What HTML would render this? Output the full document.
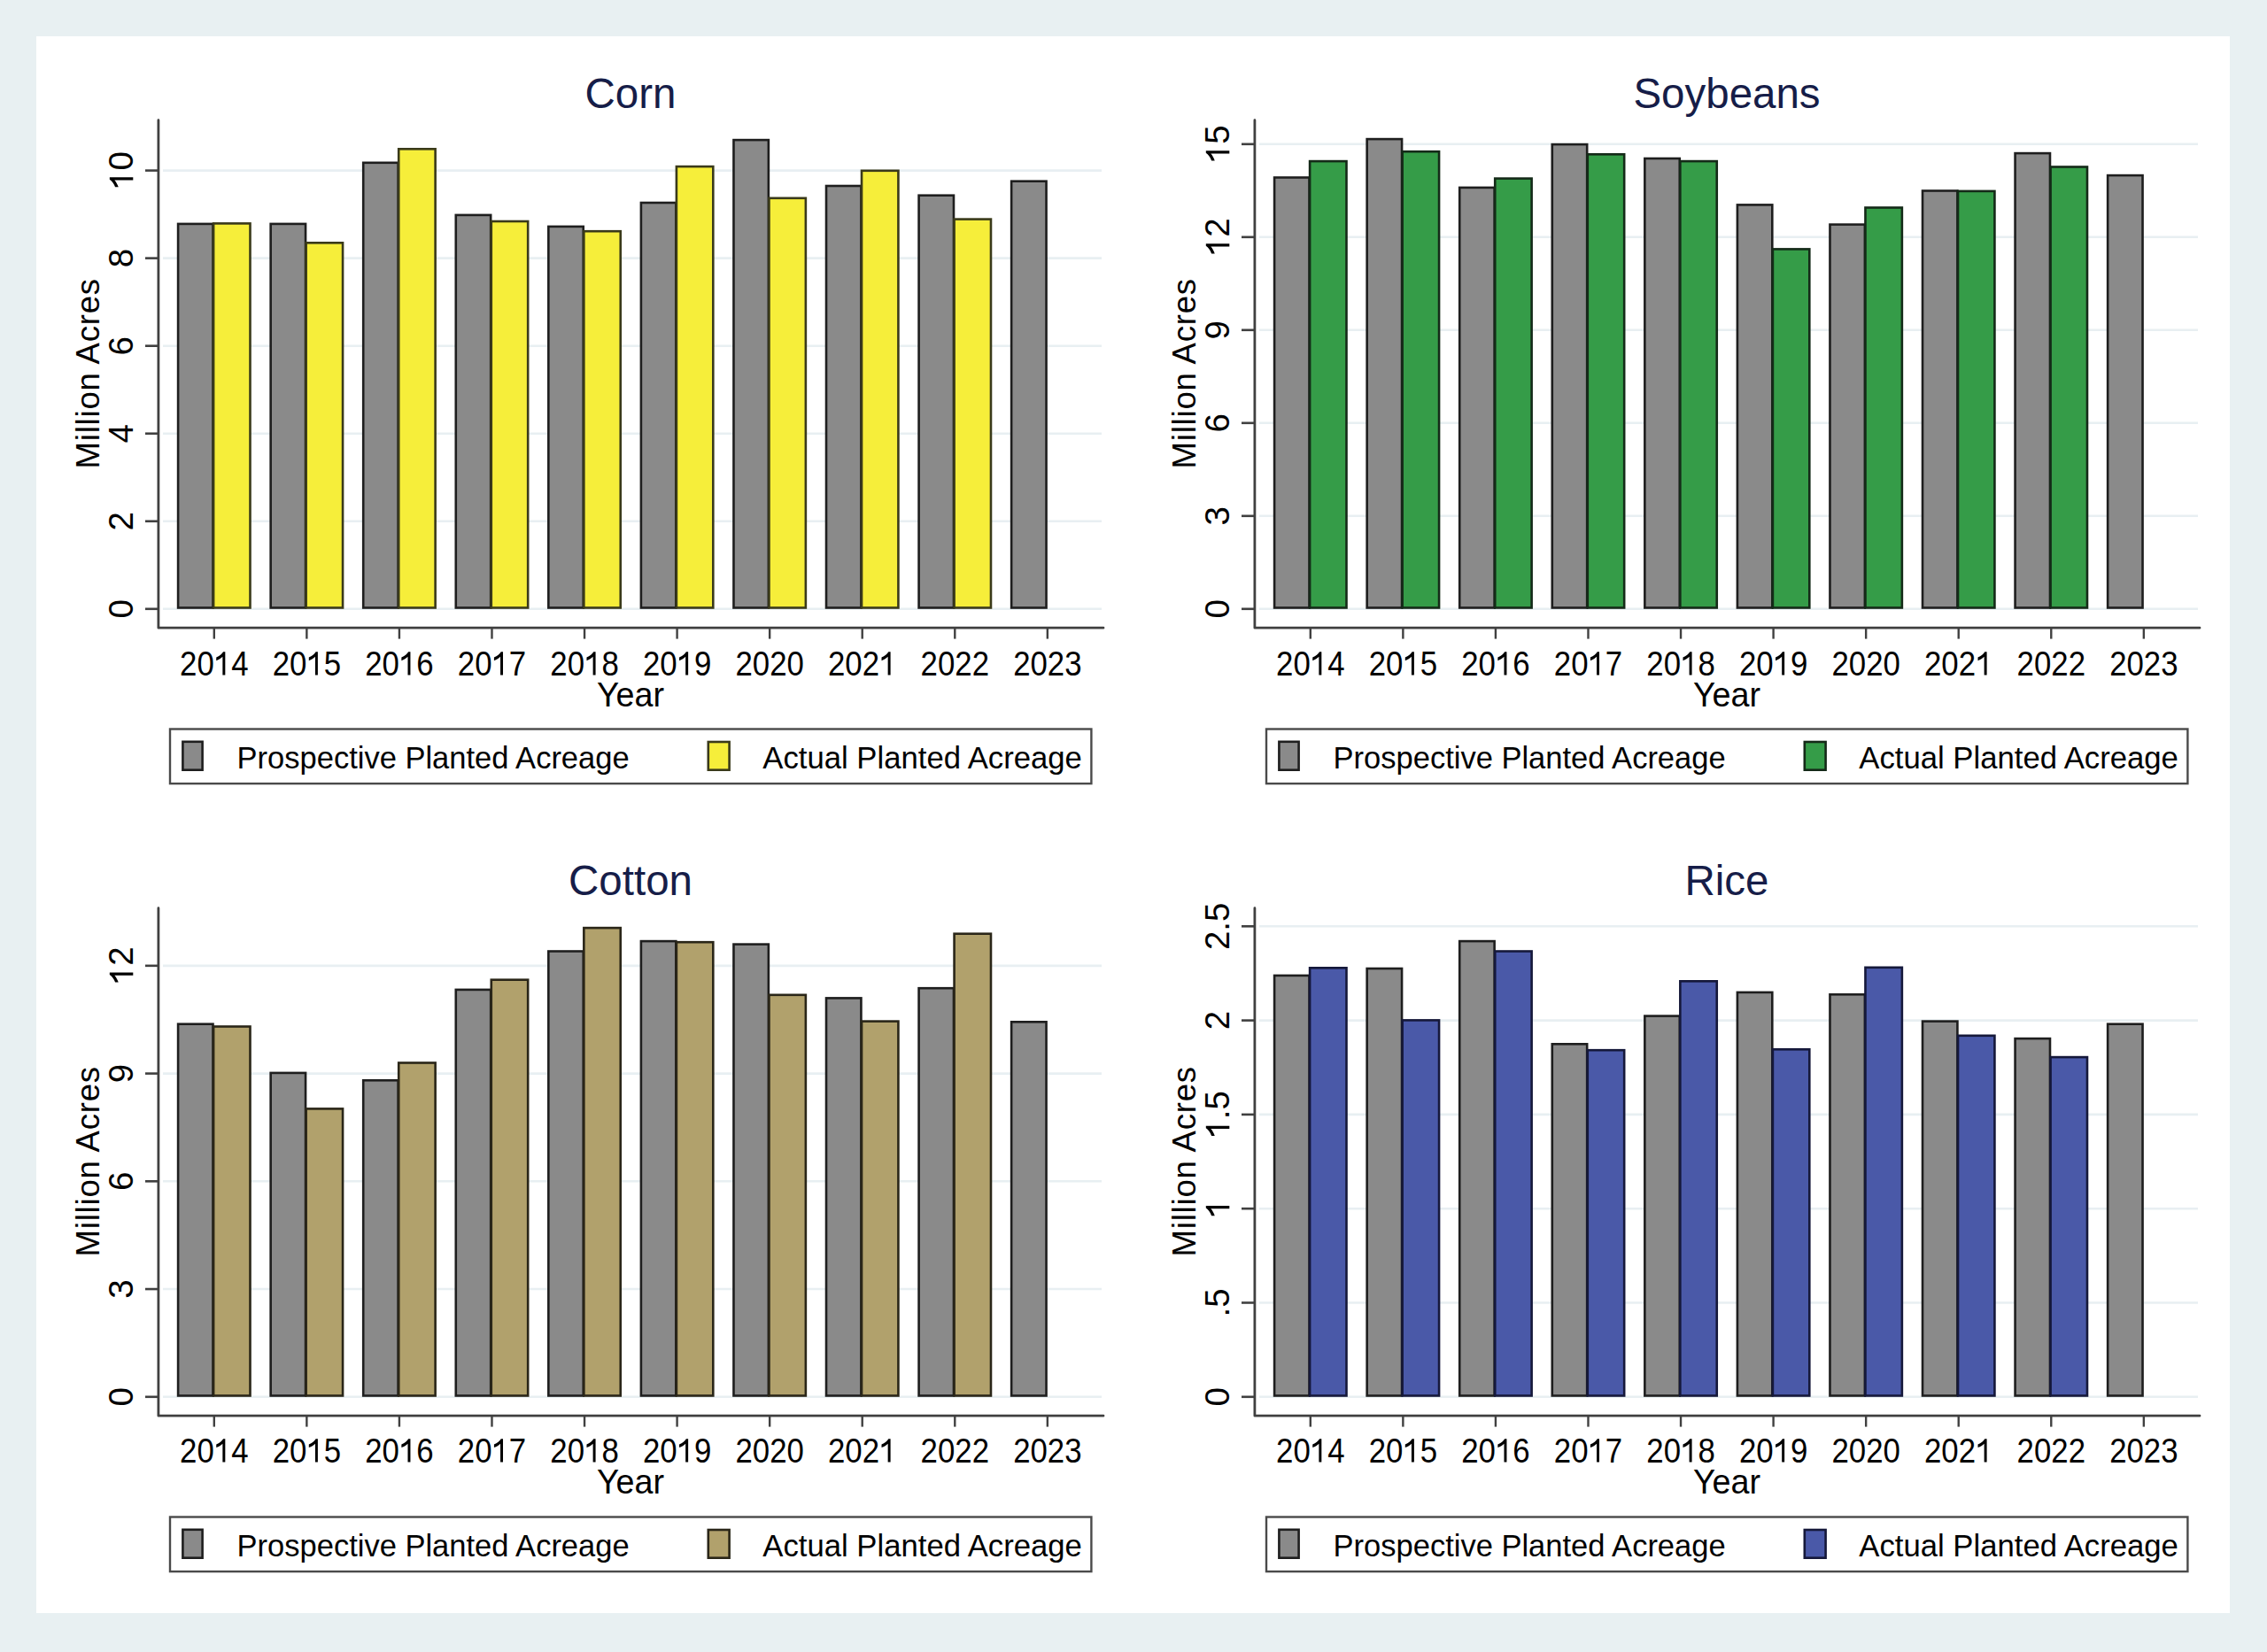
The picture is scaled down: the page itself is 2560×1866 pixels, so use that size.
<!DOCTYPE html><html><head><meta charset="utf-8"><style>html,body{margin:0;padding:0;background:#e8f0f2;width:2560px;height:1866px;overflow:hidden}svg{display:block}text{font-family:"Liberation Sans", sans-serif}</style></head><body>
<svg width="2560" height="1866" viewBox="0 0 2560 1866">
<rect x="0" y="0" width="2560" height="1866" fill="#e8f0f2"/>
<rect x="41" y="41" width="2477" height="1781" fill="#ffffff"/>
<g transform="translate(0,0)">
<line x1="184" y1="687.8" x2="1244" y2="687.8" stroke="#e8eff2" stroke-width="2.6"/>
<line x1="184" y1="588.76" x2="1244" y2="588.76" stroke="#e8eff2" stroke-width="2.6"/>
<line x1="184" y1="489.72" x2="1244" y2="489.72" stroke="#e8eff2" stroke-width="2.6"/>
<line x1="184" y1="390.68" x2="1244" y2="390.68" stroke="#e8eff2" stroke-width="2.6"/>
<line x1="184" y1="291.64" x2="1244" y2="291.64" stroke="#e8eff2" stroke-width="2.6"/>
<line x1="184" y1="192.6" x2="1244" y2="192.6" stroke="#e8eff2" stroke-width="2.6"/>
<rect x="201.1" y="252.9" width="39.4" height="433.6" fill="#8a8a8a" stroke="#1e1e1e" stroke-width="2.6"/>
<rect x="241.1" y="252.4" width="41.4" height="434.1" fill="#f6ee3a" stroke="#3a3a1a" stroke-width="2.6"/>
<rect x="305.66" y="252.9" width="39.4" height="433.6" fill="#8a8a8a" stroke="#1e1e1e" stroke-width="2.6"/>
<rect x="345.66" y="274.3" width="41.4" height="412.2" fill="#f6ee3a" stroke="#3a3a1a" stroke-width="2.6"/>
<rect x="410.22" y="183.8" width="39.4" height="502.7" fill="#8a8a8a" stroke="#1e1e1e" stroke-width="2.6"/>
<rect x="450.22" y="168.3" width="41.4" height="518.2" fill="#f6ee3a" stroke="#3a3a1a" stroke-width="2.6"/>
<rect x="514.78" y="242.9" width="39.4" height="443.6" fill="#8a8a8a" stroke="#1e1e1e" stroke-width="2.6"/>
<rect x="554.78" y="250" width="41.4" height="436.5" fill="#f6ee3a" stroke="#3a3a1a" stroke-width="2.6"/>
<rect x="619.34" y="255.9" width="39.4" height="430.6" fill="#8a8a8a" stroke="#1e1e1e" stroke-width="2.6"/>
<rect x="659.34" y="261.2" width="41.4" height="425.3" fill="#f6ee3a" stroke="#3a3a1a" stroke-width="2.6"/>
<rect x="723.9" y="229" width="39.4" height="457.5" fill="#8a8a8a" stroke="#1e1e1e" stroke-width="2.6"/>
<rect x="763.9" y="188.1" width="41.4" height="498.4" fill="#f6ee3a" stroke="#3a3a1a" stroke-width="2.6"/>
<rect x="828.46" y="158.1" width="39.4" height="528.4" fill="#8a8a8a" stroke="#1e1e1e" stroke-width="2.6"/>
<rect x="868.46" y="223.8" width="41.4" height="462.7" fill="#f6ee3a" stroke="#3a3a1a" stroke-width="2.6"/>
<rect x="933.02" y="210" width="39.4" height="476.5" fill="#8a8a8a" stroke="#1e1e1e" stroke-width="2.6"/>
<rect x="973.02" y="192.8" width="41.4" height="493.7" fill="#f6ee3a" stroke="#3a3a1a" stroke-width="2.6"/>
<rect x="1037.58" y="220.7" width="39.4" height="465.8" fill="#8a8a8a" stroke="#1e1e1e" stroke-width="2.6"/>
<rect x="1077.58" y="247.6" width="41.4" height="438.9" fill="#f6ee3a" stroke="#3a3a1a" stroke-width="2.6"/>
<rect x="1142.14" y="204.7" width="39.4" height="481.8" fill="#8a8a8a" stroke="#1e1e1e" stroke-width="2.6"/>
<path d="M178.9 135.7 L178.9 709.2 L1246 709.2" fill="none" stroke="#404040" stroke-width="2.8" stroke-linejoin="round" stroke-linecap="round"/>
<line x1="164" y1="687.8" x2="178.9" y2="687.8" stroke="#404040" stroke-width="2.6"/>
<g transform="translate(150.3,687.8) rotate(-90)"><text x="0" y="0" text-anchor="middle" font-size="38.5">0</text></g>
<line x1="164" y1="588.76" x2="178.9" y2="588.76" stroke="#404040" stroke-width="2.6"/>
<g transform="translate(150.3,588.76) rotate(-90)"><text x="0" y="0" text-anchor="middle" font-size="38.5">2</text></g>
<line x1="164" y1="489.72" x2="178.9" y2="489.72" stroke="#404040" stroke-width="2.6"/>
<g transform="translate(150.3,489.72) rotate(-90)"><text x="0" y="0" text-anchor="middle" font-size="38.5">4</text></g>
<line x1="164" y1="390.68" x2="178.9" y2="390.68" stroke="#404040" stroke-width="2.6"/>
<g transform="translate(150.3,390.68) rotate(-90)"><text x="0" y="0" text-anchor="middle" font-size="38.5">6</text></g>
<line x1="164" y1="291.64" x2="178.9" y2="291.64" stroke="#404040" stroke-width="2.6"/>
<g transform="translate(150.3,291.64) rotate(-90)"><text x="0" y="0" text-anchor="middle" font-size="38.5">8</text></g>
<line x1="164" y1="192.6" x2="178.9" y2="192.6" stroke="#404040" stroke-width="2.6"/>
<g transform="translate(150.3,192.6) rotate(-90)"><text x="0" y="0" text-anchor="middle" font-size="38.5">&#8199;0</text><path transform="translate(-21.41,0) scale(38.5)" d="M0.36 0L0.36 -0.688L0.295 -0.688C0.255 -0.62 0.175 -0.565 0.07 -0.525L0.07 -0.43C0.155 -0.46 0.225 -0.5 0.275 -0.545L0.275 0Z"/></g>
<line x1="241.8" y1="709.2" x2="241.8" y2="721.6" stroke="#404040" stroke-width="2.4"/>
<g transform="translate(241.8,762.6) scale(1,1.1)"><text x="0" y="0" text-anchor="middle" font-size="34.8">20&#8199;4</text><path transform="translate(0,0) scale(34.8)" d="M0.36 0L0.36 -0.688L0.295 -0.688C0.255 -0.62 0.175 -0.565 0.07 -0.525L0.07 -0.43C0.155 -0.46 0.225 -0.5 0.275 -0.545L0.275 0Z"/></g>
<line x1="346.36" y1="709.2" x2="346.36" y2="721.6" stroke="#404040" stroke-width="2.4"/>
<g transform="translate(346.36,762.6) scale(1,1.1)"><text x="0" y="0" text-anchor="middle" font-size="34.8">20&#8199;5</text><path transform="translate(0,0) scale(34.8)" d="M0.36 0L0.36 -0.688L0.295 -0.688C0.255 -0.62 0.175 -0.565 0.07 -0.525L0.07 -0.43C0.155 -0.46 0.225 -0.5 0.275 -0.545L0.275 0Z"/></g>
<line x1="450.92" y1="709.2" x2="450.92" y2="721.6" stroke="#404040" stroke-width="2.4"/>
<g transform="translate(450.92,762.6) scale(1,1.1)"><text x="0" y="0" text-anchor="middle" font-size="34.8">20&#8199;6</text><path transform="translate(0,0) scale(34.8)" d="M0.36 0L0.36 -0.688L0.295 -0.688C0.255 -0.62 0.175 -0.565 0.07 -0.525L0.07 -0.43C0.155 -0.46 0.225 -0.5 0.275 -0.545L0.275 0Z"/></g>
<line x1="555.48" y1="709.2" x2="555.48" y2="721.6" stroke="#404040" stroke-width="2.4"/>
<g transform="translate(555.48,762.6) scale(1,1.1)"><text x="0" y="0" text-anchor="middle" font-size="34.8">20&#8199;7</text><path transform="translate(0,0) scale(34.8)" d="M0.36 0L0.36 -0.688L0.295 -0.688C0.255 -0.62 0.175 -0.565 0.07 -0.525L0.07 -0.43C0.155 -0.46 0.225 -0.5 0.275 -0.545L0.275 0Z"/></g>
<line x1="660.04" y1="709.2" x2="660.04" y2="721.6" stroke="#404040" stroke-width="2.4"/>
<g transform="translate(660.04,762.6) scale(1,1.1)"><text x="0" y="0" text-anchor="middle" font-size="34.8">20&#8199;8</text><path transform="translate(0,0) scale(34.8)" d="M0.36 0L0.36 -0.688L0.295 -0.688C0.255 -0.62 0.175 -0.565 0.07 -0.525L0.07 -0.43C0.155 -0.46 0.225 -0.5 0.275 -0.545L0.275 0Z"/></g>
<line x1="764.6" y1="709.2" x2="764.6" y2="721.6" stroke="#404040" stroke-width="2.4"/>
<g transform="translate(764.6,762.6) scale(1,1.1)"><text x="0" y="0" text-anchor="middle" font-size="34.8">20&#8199;9</text><path transform="translate(0,0) scale(34.8)" d="M0.36 0L0.36 -0.688L0.295 -0.688C0.255 -0.62 0.175 -0.565 0.07 -0.525L0.07 -0.43C0.155 -0.46 0.225 -0.5 0.275 -0.545L0.275 0Z"/></g>
<line x1="869.16" y1="709.2" x2="869.16" y2="721.6" stroke="#404040" stroke-width="2.4"/>
<g transform="translate(869.16,762.6) scale(1,1.1)"><text x="0" y="0" text-anchor="middle" font-size="34.8">2020</text></g>
<line x1="973.72" y1="709.2" x2="973.72" y2="721.6" stroke="#404040" stroke-width="2.4"/>
<g transform="translate(973.72,762.6) scale(1,1.1)"><text x="0" y="0" text-anchor="middle" font-size="34.8">202&#8199;</text><path transform="translate(19.35,0) scale(34.8)" d="M0.36 0L0.36 -0.688L0.295 -0.688C0.255 -0.62 0.175 -0.565 0.07 -0.525L0.07 -0.43C0.155 -0.46 0.225 -0.5 0.275 -0.545L0.275 0Z"/></g>
<line x1="1078.28" y1="709.2" x2="1078.28" y2="721.6" stroke="#404040" stroke-width="2.4"/>
<g transform="translate(1078.28,762.6) scale(1,1.1)"><text x="0" y="0" text-anchor="middle" font-size="34.8">2022</text></g>
<line x1="1182.84" y1="709.2" x2="1182.84" y2="721.6" stroke="#404040" stroke-width="2.4"/>
<g transform="translate(1182.84,762.6) scale(1,1.1)"><text x="0" y="0" text-anchor="middle" font-size="34.8">2023</text></g>
<text transform="translate(712,798.1) scale(1,1.04)" text-anchor="middle" font-size="37.7">Year</text>
<text transform="translate(111.7,422.2) rotate(-90)" text-anchor="middle" font-size="36.5" textLength="214.5" lengthAdjust="spacing">Million Acres</text>
<text transform="translate(712,121.8) scale(1,1.02)" text-anchor="middle" font-size="47.5" fill="#161d48">Corn</text>
<rect x="192" y="823.5" width="1040.4" height="61.6" fill="#fff" stroke="#4a4a4a" stroke-width="2.4"/>
<rect x="206.4" y="837.8" width="22.2" height="31.9" fill="#8a8a8a" stroke="#1e1e1e" stroke-width="2.6"/>
<text x="267.6" y="867.7" font-size="34.5">Prospective Planted Acreage</text>
<rect x="799.8" y="838" width="23.8" height="31.7" fill="#f6ee3a" stroke="#3a3a1a" stroke-width="2.6"/>
<text x="861.3" y="867.7" font-size="34.7">Actual Planted Acreage</text>
</g>
<g transform="translate(1238,0)">
<line x1="184" y1="687.8" x2="1244" y2="687.8" stroke="#e8eff2" stroke-width="2.6"/>
<line x1="184" y1="582.8" x2="1244" y2="582.8" stroke="#e8eff2" stroke-width="2.6"/>
<line x1="184" y1="477.8" x2="1244" y2="477.8" stroke="#e8eff2" stroke-width="2.6"/>
<line x1="184" y1="372.8" x2="1244" y2="372.8" stroke="#e8eff2" stroke-width="2.6"/>
<line x1="184" y1="267.8" x2="1244" y2="267.8" stroke="#e8eff2" stroke-width="2.6"/>
<line x1="184" y1="162.8" x2="1244" y2="162.8" stroke="#e8eff2" stroke-width="2.6"/>
<rect x="201.1" y="200.5" width="39.4" height="486" fill="#8a8a8a" stroke="#1e1e1e" stroke-width="2.6"/>
<rect x="241.1" y="182.1" width="41.4" height="504.4" fill="#359c48" stroke="#142a18" stroke-width="2.6"/>
<rect x="305.66" y="157.1" width="39.4" height="529.4" fill="#8a8a8a" stroke="#1e1e1e" stroke-width="2.6"/>
<rect x="345.66" y="171.2" width="41.4" height="515.3" fill="#359c48" stroke="#142a18" stroke-width="2.6"/>
<rect x="410.22" y="211.9" width="39.4" height="474.6" fill="#8a8a8a" stroke="#1e1e1e" stroke-width="2.6"/>
<rect x="450.22" y="201.6" width="41.4" height="484.9" fill="#359c48" stroke="#142a18" stroke-width="2.6"/>
<rect x="514.78" y="163.1" width="39.4" height="523.4" fill="#8a8a8a" stroke="#1e1e1e" stroke-width="2.6"/>
<rect x="554.78" y="174.3" width="41.4" height="512.2" fill="#359c48" stroke="#142a18" stroke-width="2.6"/>
<rect x="619.34" y="179" width="39.4" height="507.5" fill="#8a8a8a" stroke="#1e1e1e" stroke-width="2.6"/>
<rect x="659.34" y="182.1" width="41.4" height="504.4" fill="#359c48" stroke="#142a18" stroke-width="2.6"/>
<rect x="723.9" y="231.4" width="39.4" height="455.1" fill="#8a8a8a" stroke="#1e1e1e" stroke-width="2.6"/>
<rect x="763.9" y="281.4" width="41.4" height="405.1" fill="#359c48" stroke="#142a18" stroke-width="2.6"/>
<rect x="828.46" y="253.6" width="39.4" height="432.9" fill="#8a8a8a" stroke="#1e1e1e" stroke-width="2.6"/>
<rect x="868.46" y="234.5" width="41.4" height="452" fill="#359c48" stroke="#142a18" stroke-width="2.6"/>
<rect x="933.02" y="215.5" width="39.4" height="471" fill="#8a8a8a" stroke="#1e1e1e" stroke-width="2.6"/>
<rect x="973.02" y="215.9" width="41.4" height="470.6" fill="#359c48" stroke="#142a18" stroke-width="2.6"/>
<rect x="1037.58" y="173.1" width="39.4" height="513.4" fill="#8a8a8a" stroke="#1e1e1e" stroke-width="2.6"/>
<rect x="1077.58" y="188.5" width="41.4" height="498" fill="#359c48" stroke="#142a18" stroke-width="2.6"/>
<rect x="1142.14" y="198.1" width="39.4" height="488.4" fill="#8a8a8a" stroke="#1e1e1e" stroke-width="2.6"/>
<path d="M178.9 135.7 L178.9 709.2 L1246 709.2" fill="none" stroke="#404040" stroke-width="2.8" stroke-linejoin="round" stroke-linecap="round"/>
<line x1="164" y1="687.8" x2="178.9" y2="687.8" stroke="#404040" stroke-width="2.6"/>
<g transform="translate(150.3,687.8) rotate(-90)"><text x="0" y="0" text-anchor="middle" font-size="38.5">0</text></g>
<line x1="164" y1="582.8" x2="178.9" y2="582.8" stroke="#404040" stroke-width="2.6"/>
<g transform="translate(150.3,582.8) rotate(-90)"><text x="0" y="0" text-anchor="middle" font-size="38.5">3</text></g>
<line x1="164" y1="477.8" x2="178.9" y2="477.8" stroke="#404040" stroke-width="2.6"/>
<g transform="translate(150.3,477.8) rotate(-90)"><text x="0" y="0" text-anchor="middle" font-size="38.5">6</text></g>
<line x1="164" y1="372.8" x2="178.9" y2="372.8" stroke="#404040" stroke-width="2.6"/>
<g transform="translate(150.3,372.8) rotate(-90)"><text x="0" y="0" text-anchor="middle" font-size="38.5">9</text></g>
<line x1="164" y1="267.8" x2="178.9" y2="267.8" stroke="#404040" stroke-width="2.6"/>
<g transform="translate(150.3,267.8) rotate(-90)"><text x="0" y="0" text-anchor="middle" font-size="38.5">&#8199;2</text><path transform="translate(-21.41,0) scale(38.5)" d="M0.36 0L0.36 -0.688L0.295 -0.688C0.255 -0.62 0.175 -0.565 0.07 -0.525L0.07 -0.43C0.155 -0.46 0.225 -0.5 0.275 -0.545L0.275 0Z"/></g>
<line x1="164" y1="162.8" x2="178.9" y2="162.8" stroke="#404040" stroke-width="2.6"/>
<g transform="translate(150.3,162.8) rotate(-90)"><text x="0" y="0" text-anchor="middle" font-size="38.5">&#8199;5</text><path transform="translate(-21.41,0) scale(38.5)" d="M0.36 0L0.36 -0.688L0.295 -0.688C0.255 -0.62 0.175 -0.565 0.07 -0.525L0.07 -0.43C0.155 -0.46 0.225 -0.5 0.275 -0.545L0.275 0Z"/></g>
<line x1="241.8" y1="709.2" x2="241.8" y2="721.6" stroke="#404040" stroke-width="2.4"/>
<g transform="translate(241.8,762.6) scale(1,1.1)"><text x="0" y="0" text-anchor="middle" font-size="34.8">20&#8199;4</text><path transform="translate(0,0) scale(34.8)" d="M0.36 0L0.36 -0.688L0.295 -0.688C0.255 -0.62 0.175 -0.565 0.07 -0.525L0.07 -0.43C0.155 -0.46 0.225 -0.5 0.275 -0.545L0.275 0Z"/></g>
<line x1="346.36" y1="709.2" x2="346.36" y2="721.6" stroke="#404040" stroke-width="2.4"/>
<g transform="translate(346.36,762.6) scale(1,1.1)"><text x="0" y="0" text-anchor="middle" font-size="34.8">20&#8199;5</text><path transform="translate(0,0) scale(34.8)" d="M0.36 0L0.36 -0.688L0.295 -0.688C0.255 -0.62 0.175 -0.565 0.07 -0.525L0.07 -0.43C0.155 -0.46 0.225 -0.5 0.275 -0.545L0.275 0Z"/></g>
<line x1="450.92" y1="709.2" x2="450.92" y2="721.6" stroke="#404040" stroke-width="2.4"/>
<g transform="translate(450.92,762.6) scale(1,1.1)"><text x="0" y="0" text-anchor="middle" font-size="34.8">20&#8199;6</text><path transform="translate(0,0) scale(34.8)" d="M0.36 0L0.36 -0.688L0.295 -0.688C0.255 -0.62 0.175 -0.565 0.07 -0.525L0.07 -0.43C0.155 -0.46 0.225 -0.5 0.275 -0.545L0.275 0Z"/></g>
<line x1="555.48" y1="709.2" x2="555.48" y2="721.6" stroke="#404040" stroke-width="2.4"/>
<g transform="translate(555.48,762.6) scale(1,1.1)"><text x="0" y="0" text-anchor="middle" font-size="34.8">20&#8199;7</text><path transform="translate(0,0) scale(34.8)" d="M0.36 0L0.36 -0.688L0.295 -0.688C0.255 -0.62 0.175 -0.565 0.07 -0.525L0.07 -0.43C0.155 -0.46 0.225 -0.5 0.275 -0.545L0.275 0Z"/></g>
<line x1="660.04" y1="709.2" x2="660.04" y2="721.6" stroke="#404040" stroke-width="2.4"/>
<g transform="translate(660.04,762.6) scale(1,1.1)"><text x="0" y="0" text-anchor="middle" font-size="34.8">20&#8199;8</text><path transform="translate(0,0) scale(34.8)" d="M0.36 0L0.36 -0.688L0.295 -0.688C0.255 -0.62 0.175 -0.565 0.07 -0.525L0.07 -0.43C0.155 -0.46 0.225 -0.5 0.275 -0.545L0.275 0Z"/></g>
<line x1="764.6" y1="709.2" x2="764.6" y2="721.6" stroke="#404040" stroke-width="2.4"/>
<g transform="translate(764.6,762.6) scale(1,1.1)"><text x="0" y="0" text-anchor="middle" font-size="34.8">20&#8199;9</text><path transform="translate(0,0) scale(34.8)" d="M0.36 0L0.36 -0.688L0.295 -0.688C0.255 -0.62 0.175 -0.565 0.07 -0.525L0.07 -0.43C0.155 -0.46 0.225 -0.5 0.275 -0.545L0.275 0Z"/></g>
<line x1="869.16" y1="709.2" x2="869.16" y2="721.6" stroke="#404040" stroke-width="2.4"/>
<g transform="translate(869.16,762.6) scale(1,1.1)"><text x="0" y="0" text-anchor="middle" font-size="34.8">2020</text></g>
<line x1="973.72" y1="709.2" x2="973.72" y2="721.6" stroke="#404040" stroke-width="2.4"/>
<g transform="translate(973.72,762.6) scale(1,1.1)"><text x="0" y="0" text-anchor="middle" font-size="34.8">202&#8199;</text><path transform="translate(19.35,0) scale(34.8)" d="M0.36 0L0.36 -0.688L0.295 -0.688C0.255 -0.62 0.175 -0.565 0.07 -0.525L0.07 -0.43C0.155 -0.46 0.225 -0.5 0.275 -0.545L0.275 0Z"/></g>
<line x1="1078.28" y1="709.2" x2="1078.28" y2="721.6" stroke="#404040" stroke-width="2.4"/>
<g transform="translate(1078.28,762.6) scale(1,1.1)"><text x="0" y="0" text-anchor="middle" font-size="34.8">2022</text></g>
<line x1="1182.84" y1="709.2" x2="1182.84" y2="721.6" stroke="#404040" stroke-width="2.4"/>
<g transform="translate(1182.84,762.6) scale(1,1.1)"><text x="0" y="0" text-anchor="middle" font-size="34.8">2023</text></g>
<text transform="translate(712,798.1) scale(1,1.04)" text-anchor="middle" font-size="37.7">Year</text>
<text transform="translate(111.7,422.2) rotate(-90)" text-anchor="middle" font-size="36.5" textLength="214.5" lengthAdjust="spacing">Million Acres</text>
<text transform="translate(712,121.8) scale(1,1.02)" text-anchor="middle" font-size="47.5" fill="#161d48">Soybeans</text>
<rect x="192" y="823.5" width="1040.4" height="61.6" fill="#fff" stroke="#4a4a4a" stroke-width="2.4"/>
<rect x="206.4" y="837.8" width="22.2" height="31.9" fill="#8a8a8a" stroke="#1e1e1e" stroke-width="2.6"/>
<text x="267.6" y="867.7" font-size="34.5">Prospective Planted Acreage</text>
<rect x="799.8" y="838" width="23.8" height="31.7" fill="#359c48" stroke="#142a18" stroke-width="2.6"/>
<text x="861.3" y="867.7" font-size="34.7">Actual Planted Acreage</text>
</g>
<g transform="translate(0,890)">
<line x1="184" y1="687.8" x2="1244" y2="687.8" stroke="#e8eff2" stroke-width="2.6"/>
<line x1="184" y1="566.06" x2="1244" y2="566.06" stroke="#e8eff2" stroke-width="2.6"/>
<line x1="184" y1="444.32" x2="1244" y2="444.32" stroke="#e8eff2" stroke-width="2.6"/>
<line x1="184" y1="322.58" x2="1244" y2="322.58" stroke="#e8eff2" stroke-width="2.6"/>
<line x1="184" y1="200.84" x2="1244" y2="200.84" stroke="#e8eff2" stroke-width="2.6"/>
<rect x="201.1" y="266.7" width="39.4" height="419.8" fill="#8a8a8a" stroke="#1e1e1e" stroke-width="2.6"/>
<rect x="241.1" y="269.5" width="41.4" height="417" fill="#b1a16c" stroke="#2a2618" stroke-width="2.6"/>
<rect x="305.66" y="321.9" width="39.4" height="364.6" fill="#8a8a8a" stroke="#1e1e1e" stroke-width="2.6"/>
<rect x="345.66" y="362.4" width="41.4" height="324.1" fill="#b1a16c" stroke="#2a2618" stroke-width="2.6"/>
<rect x="410.22" y="330.3" width="39.4" height="356.2" fill="#8a8a8a" stroke="#1e1e1e" stroke-width="2.6"/>
<rect x="450.22" y="310.5" width="41.4" height="376" fill="#b1a16c" stroke="#2a2618" stroke-width="2.6"/>
<rect x="514.78" y="227.9" width="39.4" height="458.6" fill="#8a8a8a" stroke="#1e1e1e" stroke-width="2.6"/>
<rect x="554.78" y="216.7" width="41.4" height="469.8" fill="#b1a16c" stroke="#2a2618" stroke-width="2.6"/>
<rect x="619.34" y="184.5" width="39.4" height="502" fill="#8a8a8a" stroke="#1e1e1e" stroke-width="2.6"/>
<rect x="659.34" y="158.1" width="41.4" height="528.4" fill="#b1a16c" stroke="#2a2618" stroke-width="2.6"/>
<rect x="723.9" y="173.1" width="39.4" height="513.4" fill="#8a8a8a" stroke="#1e1e1e" stroke-width="2.6"/>
<rect x="763.9" y="174.2" width="41.4" height="512.3" fill="#b1a16c" stroke="#2a2618" stroke-width="2.6"/>
<rect x="828.46" y="176.6" width="39.4" height="509.9" fill="#8a8a8a" stroke="#1e1e1e" stroke-width="2.6"/>
<rect x="868.46" y="233.8" width="41.4" height="452.7" fill="#b1a16c" stroke="#2a2618" stroke-width="2.6"/>
<rect x="933.02" y="237.4" width="39.4" height="449.1" fill="#8a8a8a" stroke="#1e1e1e" stroke-width="2.6"/>
<rect x="973.02" y="263.6" width="41.4" height="422.9" fill="#b1a16c" stroke="#2a2618" stroke-width="2.6"/>
<rect x="1037.58" y="226.2" width="39.4" height="460.3" fill="#8a8a8a" stroke="#1e1e1e" stroke-width="2.6"/>
<rect x="1077.58" y="164.7" width="41.4" height="521.8" fill="#b1a16c" stroke="#2a2618" stroke-width="2.6"/>
<rect x="1142.14" y="264.3" width="39.4" height="422.2" fill="#8a8a8a" stroke="#1e1e1e" stroke-width="2.6"/>
<path d="M178.9 135.7 L178.9 709.2 L1246 709.2" fill="none" stroke="#404040" stroke-width="2.8" stroke-linejoin="round" stroke-linecap="round"/>
<line x1="164" y1="687.8" x2="178.9" y2="687.8" stroke="#404040" stroke-width="2.6"/>
<g transform="translate(150.3,687.8) rotate(-90)"><text x="0" y="0" text-anchor="middle" font-size="38.5">0</text></g>
<line x1="164" y1="566.06" x2="178.9" y2="566.06" stroke="#404040" stroke-width="2.6"/>
<g transform="translate(150.3,566.06) rotate(-90)"><text x="0" y="0" text-anchor="middle" font-size="38.5">3</text></g>
<line x1="164" y1="444.32" x2="178.9" y2="444.32" stroke="#404040" stroke-width="2.6"/>
<g transform="translate(150.3,444.32) rotate(-90)"><text x="0" y="0" text-anchor="middle" font-size="38.5">6</text></g>
<line x1="164" y1="322.58" x2="178.9" y2="322.58" stroke="#404040" stroke-width="2.6"/>
<g transform="translate(150.3,322.58) rotate(-90)"><text x="0" y="0" text-anchor="middle" font-size="38.5">9</text></g>
<line x1="164" y1="200.84" x2="178.9" y2="200.84" stroke="#404040" stroke-width="2.6"/>
<g transform="translate(150.3,200.84) rotate(-90)"><text x="0" y="0" text-anchor="middle" font-size="38.5">&#8199;2</text><path transform="translate(-21.41,0) scale(38.5)" d="M0.36 0L0.36 -0.688L0.295 -0.688C0.255 -0.62 0.175 -0.565 0.07 -0.525L0.07 -0.43C0.155 -0.46 0.225 -0.5 0.275 -0.545L0.275 0Z"/></g>
<line x1="241.8" y1="709.2" x2="241.8" y2="721.6" stroke="#404040" stroke-width="2.4"/>
<g transform="translate(241.8,761.5) scale(1,1.1)"><text x="0" y="0" text-anchor="middle" font-size="34.8">20&#8199;4</text><path transform="translate(0,0) scale(34.8)" d="M0.36 0L0.36 -0.688L0.295 -0.688C0.255 -0.62 0.175 -0.565 0.07 -0.525L0.07 -0.43C0.155 -0.46 0.225 -0.5 0.275 -0.545L0.275 0Z"/></g>
<line x1="346.36" y1="709.2" x2="346.36" y2="721.6" stroke="#404040" stroke-width="2.4"/>
<g transform="translate(346.36,761.5) scale(1,1.1)"><text x="0" y="0" text-anchor="middle" font-size="34.8">20&#8199;5</text><path transform="translate(0,0) scale(34.8)" d="M0.36 0L0.36 -0.688L0.295 -0.688C0.255 -0.62 0.175 -0.565 0.07 -0.525L0.07 -0.43C0.155 -0.46 0.225 -0.5 0.275 -0.545L0.275 0Z"/></g>
<line x1="450.92" y1="709.2" x2="450.92" y2="721.6" stroke="#404040" stroke-width="2.4"/>
<g transform="translate(450.92,761.5) scale(1,1.1)"><text x="0" y="0" text-anchor="middle" font-size="34.8">20&#8199;6</text><path transform="translate(0,0) scale(34.8)" d="M0.36 0L0.36 -0.688L0.295 -0.688C0.255 -0.62 0.175 -0.565 0.07 -0.525L0.07 -0.43C0.155 -0.46 0.225 -0.5 0.275 -0.545L0.275 0Z"/></g>
<line x1="555.48" y1="709.2" x2="555.48" y2="721.6" stroke="#404040" stroke-width="2.4"/>
<g transform="translate(555.48,761.5) scale(1,1.1)"><text x="0" y="0" text-anchor="middle" font-size="34.8">20&#8199;7</text><path transform="translate(0,0) scale(34.8)" d="M0.36 0L0.36 -0.688L0.295 -0.688C0.255 -0.62 0.175 -0.565 0.07 -0.525L0.07 -0.43C0.155 -0.46 0.225 -0.5 0.275 -0.545L0.275 0Z"/></g>
<line x1="660.04" y1="709.2" x2="660.04" y2="721.6" stroke="#404040" stroke-width="2.4"/>
<g transform="translate(660.04,761.5) scale(1,1.1)"><text x="0" y="0" text-anchor="middle" font-size="34.8">20&#8199;8</text><path transform="translate(0,0) scale(34.8)" d="M0.36 0L0.36 -0.688L0.295 -0.688C0.255 -0.62 0.175 -0.565 0.07 -0.525L0.07 -0.43C0.155 -0.46 0.225 -0.5 0.275 -0.545L0.275 0Z"/></g>
<line x1="764.6" y1="709.2" x2="764.6" y2="721.6" stroke="#404040" stroke-width="2.4"/>
<g transform="translate(764.6,761.5) scale(1,1.1)"><text x="0" y="0" text-anchor="middle" font-size="34.8">20&#8199;9</text><path transform="translate(0,0) scale(34.8)" d="M0.36 0L0.36 -0.688L0.295 -0.688C0.255 -0.62 0.175 -0.565 0.07 -0.525L0.07 -0.43C0.155 -0.46 0.225 -0.5 0.275 -0.545L0.275 0Z"/></g>
<line x1="869.16" y1="709.2" x2="869.16" y2="721.6" stroke="#404040" stroke-width="2.4"/>
<g transform="translate(869.16,761.5) scale(1,1.1)"><text x="0" y="0" text-anchor="middle" font-size="34.8">2020</text></g>
<line x1="973.72" y1="709.2" x2="973.72" y2="721.6" stroke="#404040" stroke-width="2.4"/>
<g transform="translate(973.72,761.5) scale(1,1.1)"><text x="0" y="0" text-anchor="middle" font-size="34.8">202&#8199;</text><path transform="translate(19.35,0) scale(34.8)" d="M0.36 0L0.36 -0.688L0.295 -0.688C0.255 -0.62 0.175 -0.565 0.07 -0.525L0.07 -0.43C0.155 -0.46 0.225 -0.5 0.275 -0.545L0.275 0Z"/></g>
<line x1="1078.28" y1="709.2" x2="1078.28" y2="721.6" stroke="#404040" stroke-width="2.4"/>
<g transform="translate(1078.28,761.5) scale(1,1.1)"><text x="0" y="0" text-anchor="middle" font-size="34.8">2022</text></g>
<line x1="1182.84" y1="709.2" x2="1182.84" y2="721.6" stroke="#404040" stroke-width="2.4"/>
<g transform="translate(1182.84,761.5) scale(1,1.1)"><text x="0" y="0" text-anchor="middle" font-size="34.8">2023</text></g>
<text transform="translate(712,797) scale(1,1.04)" text-anchor="middle" font-size="37.7">Year</text>
<text transform="translate(111.7,422.2) rotate(-90)" text-anchor="middle" font-size="36.5" textLength="214.5" lengthAdjust="spacing">Million Acres</text>
<text transform="translate(712,121.47) scale(1,1.02)" text-anchor="middle" font-size="47.5" fill="#161d48">Cotton</text>
<rect x="192" y="823.5" width="1040.4" height="61.6" fill="#fff" stroke="#4a4a4a" stroke-width="2.4"/>
<rect x="206.4" y="837.8" width="22.2" height="31.9" fill="#8a8a8a" stroke="#1e1e1e" stroke-width="2.6"/>
<text x="267.6" y="867.7" font-size="34.5">Prospective Planted Acreage</text>
<rect x="799.8" y="838" width="23.8" height="31.7" fill="#b1a16c" stroke="#2a2618" stroke-width="2.6"/>
<text x="861.3" y="867.7" font-size="34.7">Actual Planted Acreage</text>
</g>
<g transform="translate(1238,890)">
<line x1="184" y1="687.8" x2="1244" y2="687.8" stroke="#e8eff2" stroke-width="2.6"/>
<line x1="184" y1="581.5" x2="1244" y2="581.5" stroke="#e8eff2" stroke-width="2.6"/>
<line x1="184" y1="475.2" x2="1244" y2="475.2" stroke="#e8eff2" stroke-width="2.6"/>
<line x1="184" y1="368.9" x2="1244" y2="368.9" stroke="#e8eff2" stroke-width="2.6"/>
<line x1="184" y1="262.6" x2="1244" y2="262.6" stroke="#e8eff2" stroke-width="2.6"/>
<line x1="184" y1="156.3" x2="1244" y2="156.3" stroke="#e8eff2" stroke-width="2.6"/>
<rect x="201.1" y="211.9" width="39.4" height="474.6" fill="#8a8a8a" stroke="#1e1e1e" stroke-width="2.6"/>
<rect x="241.1" y="203.3" width="41.4" height="483.2" fill="#4a59a8" stroke="#15183a" stroke-width="2.6"/>
<rect x="305.66" y="204" width="39.4" height="482.5" fill="#8a8a8a" stroke="#1e1e1e" stroke-width="2.6"/>
<rect x="345.66" y="262.4" width="41.4" height="424.1" fill="#4a59a8" stroke="#15183a" stroke-width="2.6"/>
<rect x="410.22" y="173.1" width="39.4" height="513.4" fill="#8a8a8a" stroke="#1e1e1e" stroke-width="2.6"/>
<rect x="450.22" y="184.5" width="41.4" height="502" fill="#4a59a8" stroke="#15183a" stroke-width="2.6"/>
<rect x="514.78" y="289.3" width="39.4" height="397.2" fill="#8a8a8a" stroke="#1e1e1e" stroke-width="2.6"/>
<rect x="554.78" y="296.2" width="41.4" height="390.3" fill="#4a59a8" stroke="#15183a" stroke-width="2.6"/>
<rect x="619.34" y="257.6" width="39.4" height="428.9" fill="#8a8a8a" stroke="#1e1e1e" stroke-width="2.6"/>
<rect x="659.34" y="218.3" width="41.4" height="468.2" fill="#4a59a8" stroke="#15183a" stroke-width="2.6"/>
<rect x="723.9" y="230.9" width="39.4" height="455.6" fill="#8a8a8a" stroke="#1e1e1e" stroke-width="2.6"/>
<rect x="763.9" y="295.3" width="41.4" height="391.2" fill="#4a59a8" stroke="#15183a" stroke-width="2.6"/>
<rect x="828.46" y="233.3" width="39.4" height="453.2" fill="#8a8a8a" stroke="#1e1e1e" stroke-width="2.6"/>
<rect x="868.46" y="202.8" width="41.4" height="483.7" fill="#4a59a8" stroke="#15183a" stroke-width="2.6"/>
<rect x="933.02" y="263.6" width="39.4" height="422.9" fill="#8a8a8a" stroke="#1e1e1e" stroke-width="2.6"/>
<rect x="973.02" y="279.8" width="41.4" height="406.7" fill="#4a59a8" stroke="#15183a" stroke-width="2.6"/>
<rect x="1037.58" y="283.1" width="39.4" height="403.4" fill="#8a8a8a" stroke="#1e1e1e" stroke-width="2.6"/>
<rect x="1077.58" y="304.1" width="41.4" height="382.4" fill="#4a59a8" stroke="#15183a" stroke-width="2.6"/>
<rect x="1142.14" y="266.7" width="39.4" height="419.8" fill="#8a8a8a" stroke="#1e1e1e" stroke-width="2.6"/>
<path d="M178.9 135.7 L178.9 709.2 L1246 709.2" fill="none" stroke="#404040" stroke-width="2.8" stroke-linejoin="round" stroke-linecap="round"/>
<line x1="164" y1="687.8" x2="178.9" y2="687.8" stroke="#404040" stroke-width="2.6"/>
<g transform="translate(150.3,687.8) rotate(-90)"><text x="0" y="0" text-anchor="middle" font-size="38.5">0</text></g>
<line x1="164" y1="581.5" x2="178.9" y2="581.5" stroke="#404040" stroke-width="2.6"/>
<g transform="translate(150.3,581.5) rotate(-90)"><text x="0" y="0" text-anchor="middle" font-size="38.5">.5</text></g>
<line x1="164" y1="475.2" x2="178.9" y2="475.2" stroke="#404040" stroke-width="2.6"/>
<g transform="translate(150.3,475.2) rotate(-90)"><text x="0" y="0" text-anchor="middle" font-size="38.5">&#8199;</text><path transform="translate(-10.71,0) scale(38.5)" d="M0.36 0L0.36 -0.688L0.295 -0.688C0.255 -0.62 0.175 -0.565 0.07 -0.525L0.07 -0.43C0.155 -0.46 0.225 -0.5 0.275 -0.545L0.275 0Z"/></g>
<line x1="164" y1="368.9" x2="178.9" y2="368.9" stroke="#404040" stroke-width="2.6"/>
<g transform="translate(150.3,368.9) rotate(-90)"><text x="0" y="0" text-anchor="middle" font-size="38.5">&#8199;.5</text><path transform="translate(-26.76,0) scale(38.5)" d="M0.36 0L0.36 -0.688L0.295 -0.688C0.255 -0.62 0.175 -0.565 0.07 -0.525L0.07 -0.43C0.155 -0.46 0.225 -0.5 0.275 -0.545L0.275 0Z"/></g>
<line x1="164" y1="262.6" x2="178.9" y2="262.6" stroke="#404040" stroke-width="2.6"/>
<g transform="translate(150.3,262.6) rotate(-90)"><text x="0" y="0" text-anchor="middle" font-size="38.5">2</text></g>
<line x1="164" y1="156.3" x2="178.9" y2="156.3" stroke="#404040" stroke-width="2.6"/>
<g transform="translate(150.3,156.3) rotate(-90)"><text x="0" y="0" text-anchor="middle" font-size="38.5">2.5</text></g>
<line x1="241.8" y1="709.2" x2="241.8" y2="721.6" stroke="#404040" stroke-width="2.4"/>
<g transform="translate(241.8,761.5) scale(1,1.1)"><text x="0" y="0" text-anchor="middle" font-size="34.8">20&#8199;4</text><path transform="translate(0,0) scale(34.8)" d="M0.36 0L0.36 -0.688L0.295 -0.688C0.255 -0.62 0.175 -0.565 0.07 -0.525L0.07 -0.43C0.155 -0.46 0.225 -0.5 0.275 -0.545L0.275 0Z"/></g>
<line x1="346.36" y1="709.2" x2="346.36" y2="721.6" stroke="#404040" stroke-width="2.4"/>
<g transform="translate(346.36,761.5) scale(1,1.1)"><text x="0" y="0" text-anchor="middle" font-size="34.8">20&#8199;5</text><path transform="translate(0,0) scale(34.8)" d="M0.36 0L0.36 -0.688L0.295 -0.688C0.255 -0.62 0.175 -0.565 0.07 -0.525L0.07 -0.43C0.155 -0.46 0.225 -0.5 0.275 -0.545L0.275 0Z"/></g>
<line x1="450.92" y1="709.2" x2="450.92" y2="721.6" stroke="#404040" stroke-width="2.4"/>
<g transform="translate(450.92,761.5) scale(1,1.1)"><text x="0" y="0" text-anchor="middle" font-size="34.8">20&#8199;6</text><path transform="translate(0,0) scale(34.8)" d="M0.36 0L0.36 -0.688L0.295 -0.688C0.255 -0.62 0.175 -0.565 0.07 -0.525L0.07 -0.43C0.155 -0.46 0.225 -0.5 0.275 -0.545L0.275 0Z"/></g>
<line x1="555.48" y1="709.2" x2="555.48" y2="721.6" stroke="#404040" stroke-width="2.4"/>
<g transform="translate(555.48,761.5) scale(1,1.1)"><text x="0" y="0" text-anchor="middle" font-size="34.8">20&#8199;7</text><path transform="translate(0,0) scale(34.8)" d="M0.36 0L0.36 -0.688L0.295 -0.688C0.255 -0.62 0.175 -0.565 0.07 -0.525L0.07 -0.43C0.155 -0.46 0.225 -0.5 0.275 -0.545L0.275 0Z"/></g>
<line x1="660.04" y1="709.2" x2="660.04" y2="721.6" stroke="#404040" stroke-width="2.4"/>
<g transform="translate(660.04,761.5) scale(1,1.1)"><text x="0" y="0" text-anchor="middle" font-size="34.8">20&#8199;8</text><path transform="translate(0,0) scale(34.8)" d="M0.36 0L0.36 -0.688L0.295 -0.688C0.255 -0.62 0.175 -0.565 0.07 -0.525L0.07 -0.43C0.155 -0.46 0.225 -0.5 0.275 -0.545L0.275 0Z"/></g>
<line x1="764.6" y1="709.2" x2="764.6" y2="721.6" stroke="#404040" stroke-width="2.4"/>
<g transform="translate(764.6,761.5) scale(1,1.1)"><text x="0" y="0" text-anchor="middle" font-size="34.8">20&#8199;9</text><path transform="translate(0,0) scale(34.8)" d="M0.36 0L0.36 -0.688L0.295 -0.688C0.255 -0.62 0.175 -0.565 0.07 -0.525L0.07 -0.43C0.155 -0.46 0.225 -0.5 0.275 -0.545L0.275 0Z"/></g>
<line x1="869.16" y1="709.2" x2="869.16" y2="721.6" stroke="#404040" stroke-width="2.4"/>
<g transform="translate(869.16,761.5) scale(1,1.1)"><text x="0" y="0" text-anchor="middle" font-size="34.8">2020</text></g>
<line x1="973.72" y1="709.2" x2="973.72" y2="721.6" stroke="#404040" stroke-width="2.4"/>
<g transform="translate(973.72,761.5) scale(1,1.1)"><text x="0" y="0" text-anchor="middle" font-size="34.8">202&#8199;</text><path transform="translate(19.35,0) scale(34.8)" d="M0.36 0L0.36 -0.688L0.295 -0.688C0.255 -0.62 0.175 -0.565 0.07 -0.525L0.07 -0.43C0.155 -0.46 0.225 -0.5 0.275 -0.545L0.275 0Z"/></g>
<line x1="1078.28" y1="709.2" x2="1078.28" y2="721.6" stroke="#404040" stroke-width="2.4"/>
<g transform="translate(1078.28,761.5) scale(1,1.1)"><text x="0" y="0" text-anchor="middle" font-size="34.8">2022</text></g>
<line x1="1182.84" y1="709.2" x2="1182.84" y2="721.6" stroke="#404040" stroke-width="2.4"/>
<g transform="translate(1182.84,761.5) scale(1,1.1)"><text x="0" y="0" text-anchor="middle" font-size="34.8">2023</text></g>
<text transform="translate(712,797) scale(1,1.04)" text-anchor="middle" font-size="37.7">Year</text>
<text transform="translate(111.7,422.2) rotate(-90)" text-anchor="middle" font-size="36.5" textLength="214.5" lengthAdjust="spacing">Million Acres</text>
<text transform="translate(712,121.47) scale(1,1.02)" text-anchor="middle" font-size="47.5" fill="#161d48">Rice</text>
<rect x="192" y="823.5" width="1040.4" height="61.6" fill="#fff" stroke="#4a4a4a" stroke-width="2.4"/>
<rect x="206.4" y="837.8" width="22.2" height="31.9" fill="#8a8a8a" stroke="#1e1e1e" stroke-width="2.6"/>
<text x="267.6" y="867.7" font-size="34.5">Prospective Planted Acreage</text>
<rect x="799.8" y="838" width="23.8" height="31.7" fill="#4a59a8" stroke="#15183a" stroke-width="2.6"/>
<text x="861.3" y="867.7" font-size="34.7">Actual Planted Acreage</text>
</g>
</svg></body></html>
